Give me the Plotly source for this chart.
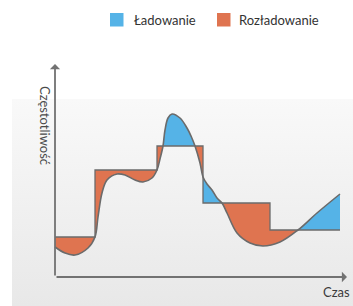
import plotly.graph_objects as go

# ---------------- data ----------------
# scheduled frequency: a step function (level starts at step_t[i], lasts to step_t[i+1])
step_t = [0, 40, 102, 148, 215, 285]
step_v = [40, 107, 131, 74, 47]

curve_t = [0, 10, 20, 33, 40, 43, 47, 52, 62, 70, 80, 88, 97, 102, 105, 108,
           110, 113, 117, 125, 132, 136, 140, 145, 148, 152, 157, 162, 167,
           172, 182, 195, 208, 225, 243, 262, 285]
curve_v = [30, 24, 22, 29, 40, 60, 84, 97, 103, 102, 97, 95, 99, 107, 118, 131,
           147, 159, 163, 159, 149, 141, 131, 114, 100, 93, 87, 79, 74,
           64, 44, 34, 31, 35, 47, 64, 83]

# crossing points that split the filled areas, and the kind of each area
seg_bounds = [0, 108, 140, 148, 167, 243, 285]
seg_kind = ["Rozładowanie", "Ładowanie", "Rozładowanie", "Ładowanie",
            "Rozładowanie", "Ładowanie"]

legend_labels = ["Ładowanie", "Rozładowanie"]
y_title = "Częstotliwość"
x_title = "Czas"

# ---------------- styles ----------------
COLORS = {"Ładowanie": "#55b3e7", "Rozładowanie": "#df7450"}
LINE = "#6b6b6b"
AXIS = "#727272"
FONT = "Lato"


def level_right(t):
    i = max(i for i in range(len(step_v)) if step_t[i] <= t)
    return step_v[i]


def level_left(t):
    i = min(i for i in range(len(step_v)) if step_t[i + 1] >= t)
    return step_v[i]


def step_path(t0, t1):
    xs, ys = [t0], [level_right(t0)]
    for i in range(1, len(step_t) - 1):
        b = step_t[i]
        if t0 < b < t1:
            xs += [b, b]
            ys += [step_v[i - 1], step_v[i]]
    xs.append(t1)
    ys.append(level_left(t1))
    return xs, ys


fig = go.Figure()

# background panel with soft vertical gradient
fig.add_trace(go.Scatter(
    x=[-43, 298, 298, -43, -43], y=[178, 178, -29, -29, 178],
    mode="lines", fill="toself", line=dict(width=0),
    fillgradient=dict(type="vertical",
                      colorscale=[[0, "#e8e8e8"], [1, "#f9f9f9"]]),
    hoverinfo="skip", showlegend=False))

# filled areas between the schedule and the actual curve
for k in range(len(seg_kind)):
    t0, t1 = seg_bounds[k], seg_bounds[k + 1]
    sx, sy = step_path(t0, t1)
    fig.add_trace(go.Scatter(x=sx, y=sy, mode="lines", line=dict(width=0),
                             hoverinfo="skip", showlegend=False))
    cx = [t for t in curve_t if t0 <= t <= t1]
    cy = [v for t, v in zip(curve_t, curve_v) if t0 <= t <= t1]
    fig.add_trace(go.Scatter(x=cx, y=cy, mode="lines",
                             line=dict(width=0, shape="spline"),
                             fill="tonexty", fillcolor=COLORS[seg_kind[k]],
                             hoverinfo="skip", showlegend=False))

# step line
fig.add_trace(go.Scatter(x=step_t, y=step_v + [step_v[-1]], mode="lines",
                         line=dict(color=LINE, width=1.3, shape="hv"),
                         hoverinfo="skip", showlegend=False))
# smooth curve
fig.add_trace(go.Scatter(x=curve_t, y=curve_v, mode="lines",
                         line=dict(color=LINE, width=1.6, shape="spline"),
                         hoverinfo="skip", showlegend=False))

# axes with arrows
annotations = [
    dict(x=0, y=213, ax=0, ay=0, xref="x", yref="y", axref="x", ayref="y",
         text="", showarrow=True, arrowhead=1, arrowsize=0.95,
         arrowwidth=1.8, arrowcolor=AXIS),
    dict(x=292, y=0, ax=0, ay=0, xref="x", yref="y", axref="x", ayref="y",
         text="", showarrow=True, arrowhead=1, arrowsize=0.95,
         arrowwidth=1.8, arrowcolor=AXIS),
    dict(x=-10, y=152, xref="x", yref="y", text=y_title, showarrow=False,
         textangle=90, font=dict(family=FONT, size=13, color="#4a4a4a")),
    dict(x=281.5, y=-15, xref="x", yref="y", text=x_title, showarrow=False,
         font=dict(family=FONT, size=13, color="#3a3a3a")),
]

# legend (squares + labels)
shapes = []
leg_sq_x = [55, 162]
leg_txt_x = [76.5, 181.5]
for lab, sx0, tx in zip(legend_labels, leg_sq_x, leg_txt_x):
    shapes.append(dict(type="rect", xref="x", yref="y", x0=sx0, x1=sx0 + 13.5,
                       y0=250.5, y1=264, fillcolor=COLORS[lab],
                       line=dict(width=0), layer="above"))
    annotations.append(dict(x=tx, y=257, xref="x", yref="y", text=lab,
                            showarrow=False, xanchor="left",
                            font=dict(family=FONT, size=13, color="#333333")))

fig.update_layout(
    width=353, height=306,
    margin=dict(l=0, r=0, t=0, b=0),
    paper_bgcolor="white", plot_bgcolor="white",
    xaxis=dict(range=[-55, 298], visible=False, fixedrange=True),
    yaxis=dict(range=[-29, 277], visible=False, fixedrange=True),
    shapes=shapes, annotations=annotations,
    showlegend=False, hovermode=False,
)

fig.write_html(
    "out.html",
    config={"displayModeBar": False, "staticPlot": True},
    post_script="document.body.style.margin='0px';"
                "document.body.style.overflow='hidden';",
)
